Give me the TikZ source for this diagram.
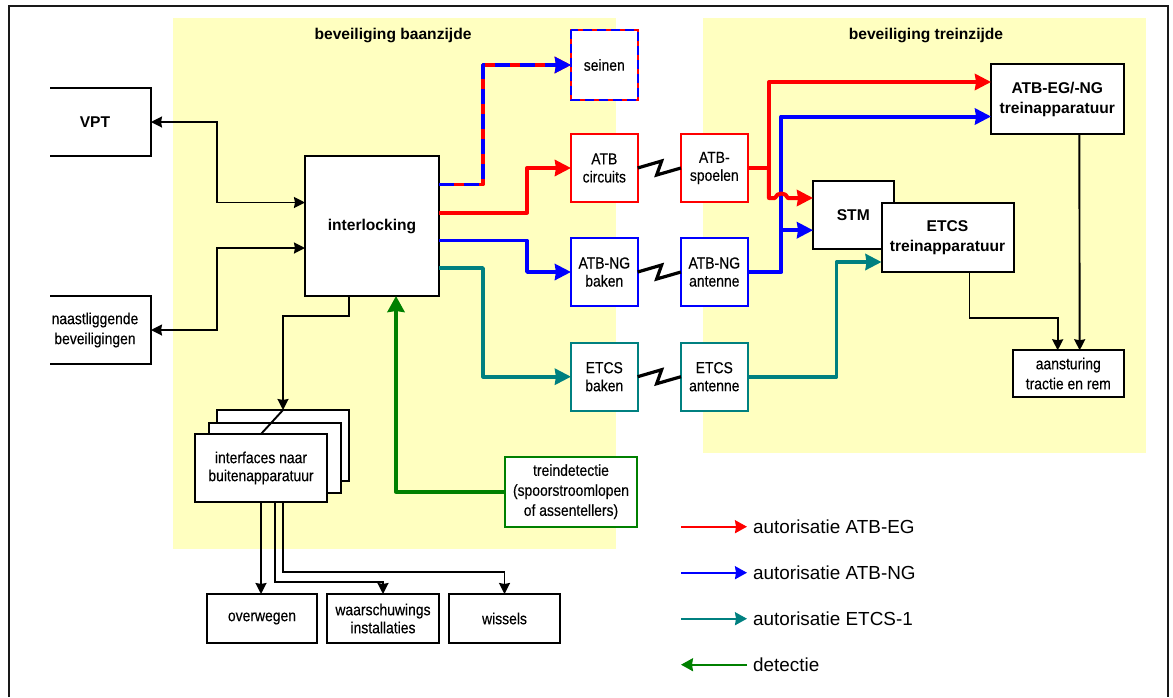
\documentclass[tikz,border=0pt]{standalone}
\usepackage{fontspec}
\setmainfont{Liberation Sans}
\newfontfamily\condf[FakeStretch=0.87,FakeBold=0.3]{Liberation Sans}
\usetikzlibrary{arrows.meta}
\definecolor{paleyellow}{RGB}{255,255,192}
\definecolor{tealc}{RGB}{0,128,128}
\definecolor{greenc}{RGB}{0,128,0}
\tikzset{
  bx/.style={draw=black,fill=white,line width=2pt,inner sep=0pt,outer sep=0pt,align=center,text=black},
  redbx/.style={bx,draw=red,line width=1.8pt},
  bluebx/.style={bx,draw=blue,line width=1.8pt},
  tealbx/.style={bx,draw=tealc,line width=1.8pt},
  greenbx/.style={bx,draw=greenc,line width=1.8pt},
  sz/.style n args={2}{minimum width=#1pt,minimum height=#2pt},
  ftb/.style={font=\fontsize{15.6}{20.5}\selectfont\bfseries},
  ftn/.style={font=\fontsize{16}{18}\selectfont\condf},
  ftw/.style={font=\fontsize{16}{20}\selectfont\condf},
  blk/.style={draw=black,line width=1.9pt,line join=miter,-{Stealth[length=11pt,width=11pt,inset=1pt]}},
  blkb/.style={draw=black,line width=1.9pt,{Stealth[length=11pt,width=11pt,inset=1pt]}-{Stealth[length=11pt,width=11pt,inset=1pt]}},
  colarrow/.style={line width=#1,line join=round,-{Stealth[length=16pt,width=16pt,inset=1pt]}},
  zig/.style={draw=black,line width=3.2pt,line join=miter},
  leg/.style={line width=1.8pt,-{Stealth[length=12pt,width=13pt,inset=1pt]}},
  legt/.style={anchor=west,inner xsep=6pt,inner ysep=0pt,font=\fontsize{18.9}{20}\selectfont}
}
\begin{document}
\begin{tikzpicture}[x=1pt,y=-1pt]
\useasboundingbox (0,0) rectangle (1173,697);
% background
\fill[paleyellow] (173,18) rectangle (616,549);
\fill[paleyellow] (703,18) rectangle (1146,453);
\draw[line width=2pt,color=black!90] (9,697) -- (9,6) -- (1168,6) -- (1168,697);
\node[ftb,inner sep=0pt] (tl) at (393,35) {beveiliging baanzijde};
\node[ftb,inner sep=0pt] (tr) at (926,35) {beveiliging treinzijde};
% left
\node[inner sep=0pt,outer sep=0pt,fill=white,sz={112}{68},font=\fontsize{15.6}{20}\selectfont\bfseries] (vpt) at (95,122) {VPT};
\draw[line width=2pt] ([xshift=11pt]vpt.north west) -- (vpt.north east) -- (vpt.south east) -- ([xshift=11pt]vpt.south west);
\node[inner sep=0pt,outer sep=0pt,fill=white,sz={112}{68},align=center,ftw] (naast) at (95,330) {naastliggende\\beveiligingen};
\draw[line width=2pt] ([xshift=11pt]naast.north west) -- (naast.north east) -- (naast.south east) -- ([xshift=11pt]naast.south west);
\node[bx,sz={134}{140},ftb] (il) at (372,226) {interlocking};
% stacked interfaces
\node[bx,sz={132}{71}] (back) at (283,445.5) {};
\node[bx,sz={132.5}{70}] (mid) at (275.2,457.7) {};
\node[bx,sz={132}{68},ftn] (front) at (261,468) {interfaces naar\\buitenapparatuur};
% bottom
\node[bx,sz={110}{49},ftn] (over) at (262,618.5) {overwegen};
\node[bx,sz={112.5}{49},ftn] (waar) at (383,618.5) {waarschuwings\\installaties};
\node[bx,sz={111}{49},ftn] (wis) at (504.5,618.5) {wissels};
% trackside
\node[redbx,sz={66.7}{70},ftn] (sein) at (604.3,65) {seinen};
\draw[blue,line width=1.8pt,dash pattern=on 9pt off 5pt] (sein.north west) rectangle (sein.south east);
\node[redbx,sz={66.7}{68},ftn] (atbc) at (604.3,168) {ATB\\circuits};
\node[bluebx,sz={66.7}{68},ftn] (ngb) at (604.3,272) {ATB-NG\\baken};
\node[tealbx,sz={66.7}{68},ftn] (etb) at (604.3,376.7) {ETCS\\baken};
\node[redbx,sz={66.7}{68},ftn] (spoel) at (714.3,168) {ATB-\\spoelen};
\node[bluebx,sz={66.7}{68},ftn] (nga) at (714.3,272) {ATB-NG\\antenne};
\node[tealbx,sz={66.7}{68},ftn] (eta) at (714.3,376.7) {ETCS\\antenne};
\node[greenbx,sz={132}{70},ftw] (det) at (571,491.7) {treindetectie\\(spoorstroomlopen\\of assentellers)};
% train side
\node[bx,sz={132.5}{70},ftb] (eg) at (1057.3,99.3) {ATB-EG/-NG\\treinapparatuur};
\node[bx,sz={80.5}{68},ftb] (stm) at (853.3,214.7) {STM};
\node[bx,sz={132}{69.6},ftb] (etcs) at (947.5,237.5) {ETCS\\treinapparatuur};
\node[bx,sz={110.5}{46.4},ftw] (aan) at (1068.3,373.5) {aansturing\\tractie en rem};
% black connectors
\draw[blkb] (vpt.east) -- ++(66,0) |- ([yshift=23.5pt]il.west);
\draw[blkb] (naast.east) -- ++(66,0) |- ([yshift=-22pt]il.west);
\draw[blk] ([xshift=-23pt]il.south) -- ++(0,20) -| (back.north);
\draw[line width=1.9pt] (back.north) -- (front.north);
\draw[blk] (front.south) -- (front.south |- over.north);
\draw[blk] ([xshift=14pt]front.south) -- ++(0,80) -| (waar.north);
\draw[blk] ([xshift=22pt]front.south) -- ++(0,70) -| (wis.north);
\draw[blk] ([xshift=22pt]eg.south) -- ([xshift=11.4pt]aan.north);
\draw[blk] ([xshift=22pt]etcs.south) -- ++(0,46) -| ([xshift=-10.6pt]aan.north);
% zigzags
\draw[zig] (atbc.east) -- ++(24,-7) -- ++(-5,14) -- (spoel.west);
\draw[zig] (ngb.east) -- ++(24,-7) -- ++(-5,14) -- (nga.west);
\draw[zig] (etb.east) -- ++(24,-7) -- ++(-5,14) -- (eta.west);
% trackside connectors
\draw[colarrow=3.6pt,red] ([yshift=41.5pt]il.east) -- ++(44,0) |- (sein.west);
\draw[colarrow=3.6pt,blue,dash pattern=on 15pt off 10pt] ([yshift=41.5pt]il.east) -- ++(44,0) |- (sein.west);
\draw[colarrow=4pt,red] ([yshift=13.5pt]il.east) -- ++(88,0) |- (atbc.west);
\draw[colarrow=3.6pt,blue] ([yshift=-14.5pt]il.east) -- ++(88,0) |- (ngb.west);
\draw[colarrow=3.6pt,tealc] ([yshift=-42pt]il.east) -- ++(44,0) |- (etb.west);
\draw[colarrow=4pt,greenc,-{Stealth[length=16pt,width=17pt,inset=1pt]}] (det.west) -| ([xshift=24pt]il.south);
% train side connectors
\coordinate (stmb) at ([yshift=-15.5pt]stm.west);
\coordinate (stmr) at ([yshift=16.7pt]stm.west);
\coordinate (rj) at ([xshift=21.3pt]spoel.east);
\coordinate (bj) at ([xshift=33.8pt]nga.east);
\draw[colarrow=3.6pt,tealc] (eta.east) -- ++(89,0) |- ([yshift=-24.5pt]etcs.west);
\draw[colarrow=4pt,blue] (nga.east) -- (bj) |- ([yshift=-17.2pt]eg.west);
\draw[colarrow=4pt,blue] (bj |- stmb) -- (stmb);
\draw[colarrow=4pt,red] (spoel.east) -- (rj) |- ([yshift=17.3pt]eg.west);
\draw[colarrow=4pt,red] (rj) -- (rj |- stmr) -- ++(6,0) .. controls +(2,-6) and +(-2,-6) .. ++(13,0) -- (stmr);
% legend
\node[legt] (l1) at (747,526.7) {autorisatie ATB-EG};
\node[legt] (l2) at (747,572.7) {autorisatie ATB-NG};
\node[legt] (l3) at (747,618.7) {autorisatie ETCS-1};
\node[legt] (l4) at (747,664.7) {detectie};
\coordinate (a1) at (681,526.7);
\coordinate (a2) at (681,572.7);
\coordinate (a3) at (681,618.7);
\coordinate (a4) at (681,664.7);
\draw[leg,red] (a1) -- (l1.west);
\draw[leg,blue] (a2) -- (l2.west);
\draw[leg,tealc] (a3) -- (l3.west);
\draw[leg,greenc] (l4.west) -- (a4);
\end{tikzpicture}
\end{document}
